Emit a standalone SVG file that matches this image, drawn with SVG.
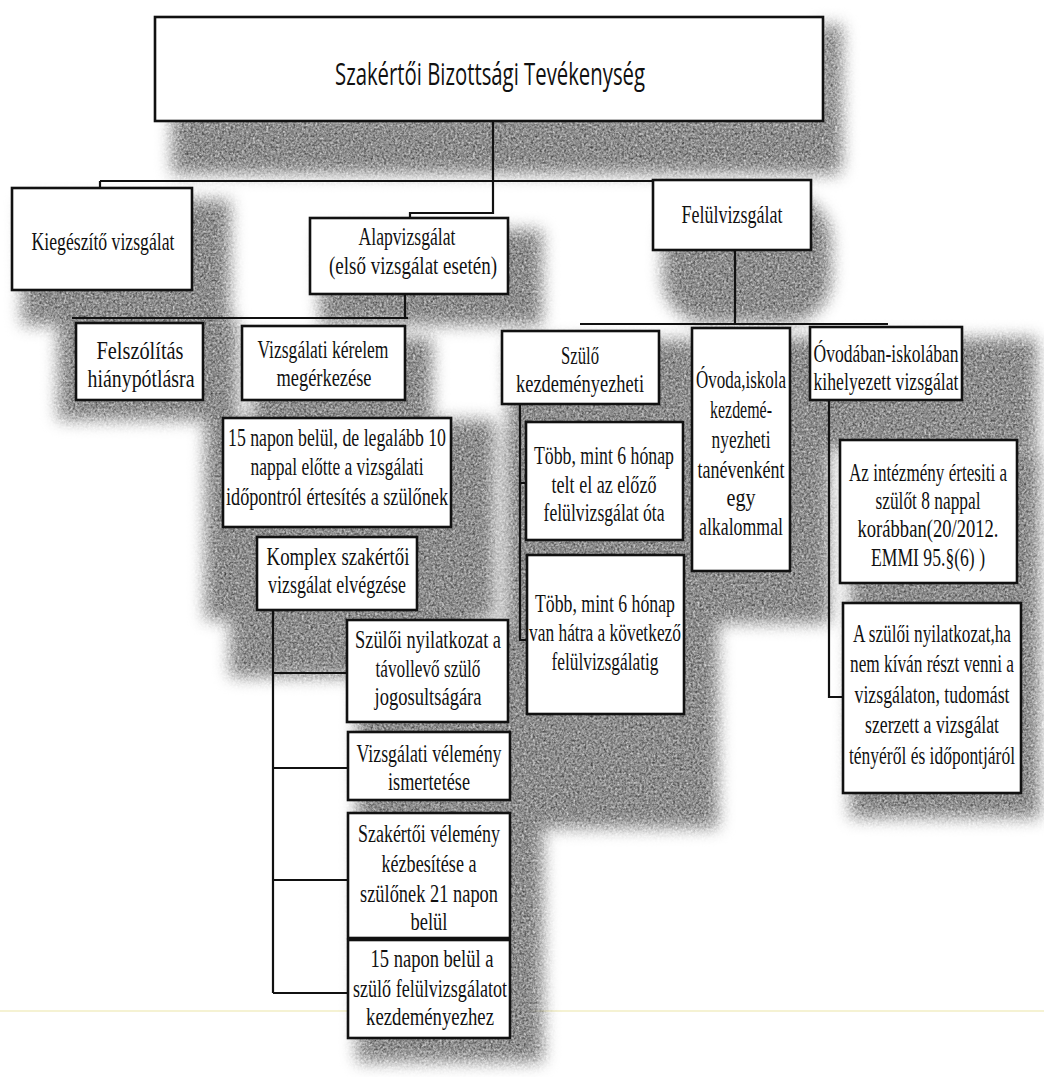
<svg xmlns="http://www.w3.org/2000/svg" width="1044" height="1077" viewBox="0 0 1044 1077">
<style>
.box{fill:#fff;stroke:#111;stroke-width:2.6}
.t{font-family:"Liberation Serif","Times New Roman",serif;font-size:25px;fill:#111;text-anchor:middle}
.title{font-family:"Open Sans","Liberation Sans",sans-serif;font-size:31px;fill:#111;text-anchor:middle}
.conn{stroke:#111;stroke-width:2.2;fill:none}
.sh{fill:#000}
</style>
<defs>
<filter id="shade" filterUnits="userSpaceOnUse" x="0" y="0" width="1044" height="1077" color-interpolation-filters="sRGB">
<feGaussianBlur in="SourceAlpha" stdDeviation="8" result="b"/>
<feTurbulence type="fractalNoise" baseFrequency="0.45" numOctaves="2" seed="4" result="n"/>
<feColorMatrix in="n" type="matrix" values="0.5 0.5 0 0 0.05  0.5 0.5 0 0 0.05  0.5 0.5 0 0 0.05  0 0 0 0 1" result="ng"/>
<feComposite in="ng" in2="b" operator="in"/>
</filter>
</defs>
<rect width="1044" height="1077" fill="#fff"/>
<line x1="0" y1="1011" x2="1044" y2="1011" stroke="#f2eec4" stroke-width="1.5"/>
<g id="shadows" filter="url(#shade)">
<rect class="sh" x="172" y="112" width="668" height="62"/>
<rect class="sh" x="818" y="25" width="24" height="140"/>
<rect class="sh" x="22" y="200" width="208" height="125"/>
<rect class="sh" x="320" y="230" width="222" height="95"/>
<rect class="sh" x="663" y="195" width="168" height="128" rx="45"/>
<rect class="sh" x="58" y="320" width="180" height="100"/>
<rect class="sh" x="252" y="338" width="180" height="82"/>
<rect class="sh" x="205" y="420" width="290" height="200"/>
<rect class="sh" x="230" y="547" width="240" height="130"/>
<rect class="sh" x="357" y="630" width="186" height="432"/>
<rect class="sh" x="508" y="340" width="190" height="90"/>
<rect class="sh" x="700" y="338" width="130" height="285"/>
<rect class="sh" x="819" y="338" width="218" height="110"/>
<rect class="sh" x="506" y="430" width="212" height="398"/>
<rect class="sh" x="850" y="450" width="190" height="368"/>
</g>
<g id="connectors">
<path class="conn" d="M493,121 V213 H410 V218"/>
<path class="conn" d="M100,181 H732 V185"/>
<path class="conn" d="M100,181 V188"/>
<path class="conn" d="M405,293 V318"/>
<path class="conn" d="M72,318 H408"/>
<path class="conn" d="M735,250 V324"/>
<path class="conn" d="M580,324 H888"/>
<path class="conn" d="M273,610 V993"/>
<path class="conn" d="M273,673 H347 M273,768 H348 M273,880 H348 M273,993 H348"/>
<path class="conn" d="M520,404 V640 H527 M520,483 H526"/>
<path class="conn" d="M829,400 V697 H843"/>
</g>
<g id="n-top">
<rect class="box" x="155" y="17" width="668" height="104"/>
<text class="title" x="490" y="85" textLength="310" lengthAdjust="spacingAndGlyphs">Szakértői Bizottsági Tevékenység</text>
</g>
<g id="n-kieg">
<rect class="box" x="12" y="188" width="180" height="102"/>
<text class="t" transform="translate(103 0) scale(.8 1)" x="0" y="250" textLength="178.75" lengthAdjust="spacingAndGlyphs">Kiegészítő vizsgálat</text>
</g>
<g id="n-alap">
<rect class="box" x="310" y="218" width="198" height="76"/>
<text class="t" transform="translate(407 0) scale(.8 1)" x="0" y="245" textLength="121.25" lengthAdjust="spacingAndGlyphs">Alapvizsgálat</text>
<text class="t" transform="translate(413 0) scale(.8 1)" x="0" y="274" textLength="210" lengthAdjust="spacingAndGlyphs">(első vizsgálat esetén)</text>
</g>
<g id="n-felul">
<rect class="box" x="653" y="180" width="158" height="70"/>
<text class="t" transform="translate(732 0) scale(.8 1)" x="0" y="223" textLength="126.25" lengthAdjust="spacingAndGlyphs">Felülvizsgálat</text>
</g>
<g id="n-felsz">
<rect class="box" x="76" y="323" width="127" height="77"/>
<text class="t" transform="translate(140 0) scale(.8 1)" x="0" y="359" textLength="108.75" lengthAdjust="spacingAndGlyphs">Felszólítás</text>
<text class="t" transform="translate(141 0) scale(.8 1)" x="0" y="387" textLength="133.75" lengthAdjust="spacingAndGlyphs">hiánypótlásra</text>
</g>
<g id="n-kerelem">
<rect class="box" x="242" y="326" width="163" height="74"/>
<text class="t" transform="translate(323 0) scale(.8 1)" x="0" y="358" textLength="163.75" lengthAdjust="spacingAndGlyphs">Vizsgálati kérelem</text>
<text class="t" transform="translate(324 0) scale(.8 1)" x="0" y="386" textLength="118.75" lengthAdjust="spacingAndGlyphs">megérkezése</text>
</g>
<g id="n-ertesites">
<rect class="box" x="223" y="418" width="228" height="109"/>
<text class="t" transform="translate(337 0) scale(.8 1)" x="0" y="446" textLength="272.5" lengthAdjust="spacingAndGlyphs">15 napon belül, de legalább 10</text>
<text class="t" transform="translate(337 0) scale(.8 1)" x="0" y="475" textLength="216.25" lengthAdjust="spacingAndGlyphs">nappal előtte a vizsgálati</text>
<text class="t" transform="translate(337 0) scale(.8 1)" x="0" y="505" textLength="277.5" lengthAdjust="spacingAndGlyphs">időpontról értesítés a szülőnek</text>
</g>
<g id="n-komplex">
<rect class="box" x="257" y="537" width="160" height="73"/>
<text class="t" transform="translate(338 0) scale(.8 1)" x="0" y="565" textLength="178.75" lengthAdjust="spacingAndGlyphs">Komplex szakértői</text>
<text class="t" transform="translate(337 0) scale(.8 1)" x="0" y="593" textLength="172.5" lengthAdjust="spacingAndGlyphs">vizsgálat elvégzése</text>
</g>
<g id="n-nyilatkozat">
<rect class="box" x="347" y="620" width="161" height="102"/>
<text class="t" transform="translate(428 0) scale(.8 1)" x="0" y="648" textLength="182.5" lengthAdjust="spacingAndGlyphs">Szülői nyilatkozat a</text>
<text class="t" transform="translate(428 0) scale(.8 1)" x="0" y="677" textLength="131.25" lengthAdjust="spacingAndGlyphs">távollevő szülő</text>
<text class="t" transform="translate(428 0) scale(.8 1)" x="0" y="705" textLength="133.75" lengthAdjust="spacingAndGlyphs">jogosultságára</text>
</g>
<g id="n-velemeny">
<rect class="box" x="348" y="732" width="162" height="68"/>
<text class="t" transform="translate(429 0) scale(.8 1)" x="0" y="762" textLength="181.25" lengthAdjust="spacingAndGlyphs">Vizsgálati vélemény</text>
<text class="t" transform="translate(429 0) scale(.8 1)" x="0" y="790" textLength="102.5" lengthAdjust="spacingAndGlyphs">ismertetése</text>
</g>
<g id="n-kezbesites">
<rect class="box" x="348" y="813" width="162" height="125"/>
<text class="t" transform="translate(429 0) scale(.8 1)" x="0" y="842" textLength="177.5" lengthAdjust="spacingAndGlyphs">Szakértői vélemény</text>
<text class="t" transform="translate(429 0) scale(.8 1)" x="0" y="872" textLength="118.75" lengthAdjust="spacingAndGlyphs">kézbesítése a</text>
<text class="t" transform="translate(429 0) scale(.8 1)" x="0" y="902" textLength="172.5" lengthAdjust="spacingAndGlyphs">szülőnek 21 napon</text>
<text class="t" transform="translate(429 0) scale(.8 1)" x="0" y="930" textLength="46.25" lengthAdjust="spacingAndGlyphs">belül</text>
</g>
<g id="n-felulkezd">
<rect class="box" x="348" y="940" width="162" height="98"/>
<text class="t" transform="translate(432 0) scale(.8 1)" x="0" y="967" textLength="153.75" lengthAdjust="spacingAndGlyphs">15 napon belül a</text>
<text class="t" transform="translate(430 0) scale(.8 1)" x="0" y="997" textLength="192.5" lengthAdjust="spacingAndGlyphs">szülő felülvizsgálatot</text>
<text class="t" transform="translate(430 0) scale(.8 1)" x="0" y="1025" textLength="160" lengthAdjust="spacingAndGlyphs">kezdeményezhez</text>
</g>
<g id="n-szulo">
<rect class="box" x="502" y="331" width="157" height="73"/>
<text class="t" transform="translate(580 0) scale(.8 1)" x="0" y="364" textLength="47.5" lengthAdjust="spacingAndGlyphs">Szülő</text>
<text class="t" transform="translate(580 0) scale(.8 1)" x="0" y="392" textLength="160" lengthAdjust="spacingAndGlyphs">kezdeményezheti</text>
</g>
<g id="n-ovoda">
<rect class="box" x="692" y="328" width="98" height="243"/>
<text class="t" transform="translate(741 0) scale(.8 1)" x="0" y="388" textLength="112.5" lengthAdjust="spacingAndGlyphs">Óvoda,iskola</text>
<text class="t" transform="translate(741 0) scale(.8 1)" x="0" y="418" textLength="77.5" lengthAdjust="spacingAndGlyphs">kezdemé-</text>
<text class="t" transform="translate(741 0) scale(.8 1)" x="0" y="448" textLength="73.75" lengthAdjust="spacingAndGlyphs">nyezheti</text>
<text class="t" transform="translate(741 0) scale(.8 1)" x="0" y="478" textLength="108.75" lengthAdjust="spacingAndGlyphs">tanévenként</text>
<text class="t" transform="translate(741 0) scale(.8 1)" x="0" y="506" textLength="36.25" lengthAdjust="spacingAndGlyphs">egy</text>
<text class="t" transform="translate(741 0) scale(.8 1)" x="0" y="535" textLength="105" lengthAdjust="spacingAndGlyphs">alkalommal</text>
</g>
<g id="n-ovodaban">
<rect class="box" x="810" y="327" width="152" height="73"/>
<text class="t" transform="translate(886 0) scale(.8 1)" x="0" y="362" textLength="181.25" lengthAdjust="spacingAndGlyphs">Óvodában-iskolában</text>
<text class="t" transform="translate(886 0) scale(.8 1)" x="0" y="390" textLength="181.25" lengthAdjust="spacingAndGlyphs">kihelyezett vizsgálat</text>
</g>
<g id="n-tobb1">
<rect class="box" x="526" y="422" width="157" height="118"/>
<text class="t" transform="translate(604 0) scale(.8 1)" x="0" y="464" textLength="175" lengthAdjust="spacingAndGlyphs">Több, mint 6 hónap</text>
<text class="t" transform="translate(604 0) scale(.8 1)" x="0" y="493" textLength="131.25" lengthAdjust="spacingAndGlyphs">telt el az előző</text>
<text class="t" transform="translate(604 0) scale(.8 1)" x="0" y="521" textLength="151.25" lengthAdjust="spacingAndGlyphs">felülvizsgálat óta</text>
</g>
<g id="n-tobb2">
<rect class="box" x="527" y="555" width="157" height="159"/>
<text class="t" transform="translate(605 0) scale(.8 1)" x="0" y="612" textLength="175" lengthAdjust="spacingAndGlyphs">Több, mint 6 hónap</text>
<text class="t" transform="translate(605 0) scale(.8 1)" x="0" y="641" textLength="190" lengthAdjust="spacingAndGlyphs">van hátra a következő</text>
<text class="t" transform="translate(605 0) scale(.8 1)" x="0" y="670" textLength="133.75" lengthAdjust="spacingAndGlyphs">felülvizsgálatig</text>
</g>
<g id="n-intezmeny">
<rect class="box" x="840" y="440" width="177" height="143"/>
<text class="t" transform="translate(928 0) scale(.8 1)" x="0" y="481" textLength="197.5" lengthAdjust="spacingAndGlyphs">Az intézmény értesiti a</text>
<text class="t" transform="translate(928 0) scale(.8 1)" x="0" y="509" textLength="131.25" lengthAdjust="spacingAndGlyphs">szülőt 8 nappal</text>
<text class="t" transform="translate(928 0) scale(.8 1)" x="0" y="537" textLength="176.25" lengthAdjust="spacingAndGlyphs">korábban(20/2012.</text>
<text class="t" transform="translate(928 0) scale(.8 1)" x="0" y="566" textLength="142.5" lengthAdjust="spacingAndGlyphs">EMMI 95.§(6) )</text>
</g>
<g id="n-szuloinyil">
<rect class="box" x="843" y="603" width="178" height="190"/>
<text class="t" transform="translate(932 0) scale(.8 1)" x="0" y="642" textLength="197.5" lengthAdjust="spacingAndGlyphs">A szülői nyilatkozat,ha</text>
<text class="t" transform="translate(932 0) scale(.8 1)" x="0" y="672" textLength="205" lengthAdjust="spacingAndGlyphs">nem kíván részt venni a</text>
<text class="t" transform="translate(932 0) scale(.8 1)" x="0" y="703" textLength="193.75" lengthAdjust="spacingAndGlyphs">vizsgálaton, tudomást</text>
<text class="t" transform="translate(932 0) scale(.8 1)" x="0" y="733" textLength="167.5" lengthAdjust="spacingAndGlyphs">szerzett a vizsgálat</text>
<text class="t" transform="translate(932 0) scale(.8 1)" x="0" y="764" textLength="207.5" lengthAdjust="spacingAndGlyphs">tényéről és időpontjáról</text>
</g>
</svg>
